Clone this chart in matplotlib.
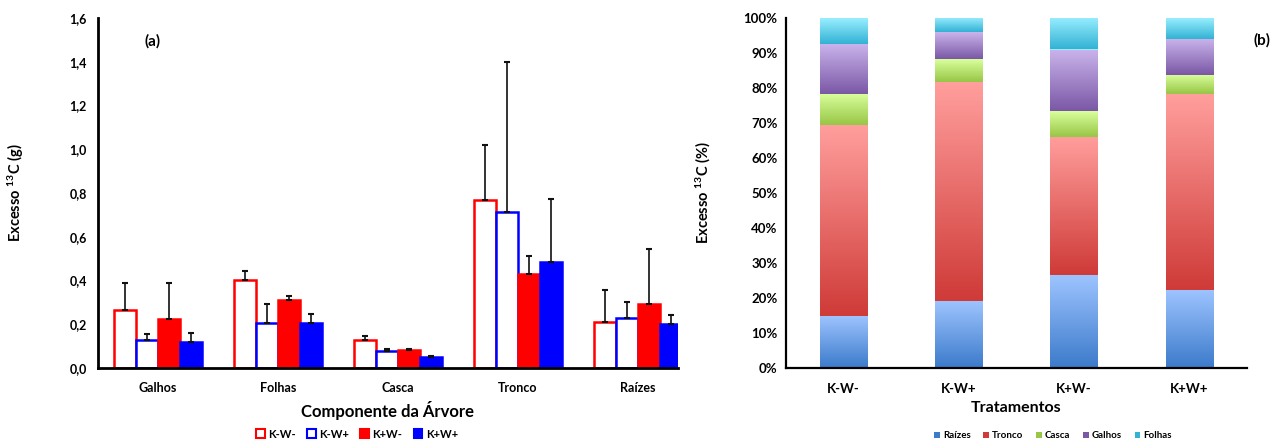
import numpy as np
import matplotlib
matplotlib.use("Agg")
import matplotlib.pyplot as plt
from matplotlib.patches import Patch
from matplotlib.colors import LinearSegmentedColormap
from matplotlib.ticker import FuncFormatter

plt.rcParams['font.family'] = ['Lato', 'DejaVu Sans']
plt.rcParams['font.weight'] = 'bold'
plt.rcParams['mathtext.fontset'] = 'custom'
plt.rcParams['mathtext.rm'] = 'Lato:bold'
plt.rcParams['mathtext.bf'] = 'Lato:bold'
plt.rcParams['mathtext.it'] = 'Lato:bold'
plt.rcParams['mathtext.default'] = 'bf'

# ---------------- data (a) ----------------
components = ["Galhos", "Folhas", "Casca", "Tronco", "Raízes"]
treatments = ["K-W-", "K-W+", "K+W-", "K+W+"]
mean_kwm = [0.265, 0.402, 0.130, 0.768, 0.212]
mean_kwp = [0.128, 0.205, 0.080, 0.715, 0.228]
mean_kpwm = [0.224, 0.310, 0.082, 0.430, 0.293]
mean_kpwp = [0.120, 0.205, 0.050, 0.484, 0.200]
err_kwm = [0.125, 0.043, 0.018, 0.252, 0.144]
err_kwp = [0.027, 0.088, 0.008, 0.685, 0.074]
err_kpwm = [0.166, 0.020, 0.003, 0.080, 0.251]
err_kpwp = [0.040, 0.040, 0.003, 0.289, 0.042]
yticks_a = [0.0, 0.2, 0.4, 0.6, 0.8, 1.0, 1.2, 1.4, 1.6]

# ---------------- data (b) ----------------
parts_b = ["Raízes", "Tronco", "Casca", "Galhos", "Folhas"]
pct_raizes = [14.9, 19.2, 26.6, 22.3]
pct_tronco = [54.4, 62.5, 39.5, 55.9]
pct_casca = [9.0, 6.5, 7.4, 5.5]
pct_galhos = [14.3, 7.7, 17.5, 10.3]
pct_folhas = [7.4, 4.1, 9.0, 6.0]

W, H = 1276, 441
fig = plt.figure(figsize=(W / 100, H / 100), dpi=100)

# ---------------- panel (a) ----------------
axa = fig.add_axes([98 / W, (H - 368) / H, (678 - 98) / W, 350 / H])
x = np.arange(len(components))
bw = 0.183
means = [mean_kwm, mean_kwp, mean_kpwm, mean_kpwp]
errs = [err_kwm, err_kwp, err_kpwm, err_kpwp]
faces = ["white", "white", "#FF0000", "#0000FF"]
edges = ["#FF0000", "#0000FF", "#FF0000", "#0000FF"]
offs = [-1.5, -0.5, 0.5, 1.5]
for m, e, fc, ec, o in zip(means, errs, faces, edges, offs):
    xs = x + o * bw
    axa.bar(xs, m, width=bw, facecolor=fc, edgecolor=ec, linewidth=1.8, zorder=2)
    axa.errorbar(xs, m, yerr=[np.zeros(len(m)), e], fmt="none", ecolor="#111111",
                 elinewidth=1.2, capsize=2.5, capthick=1.5, zorder=3)
axa.set_xlim(-0.5, 4.333)
axa.set_ylim(0, 1.6)
axa.set_yticks(yticks_a)
axa.yaxis.set_major_formatter(FuncFormatter(lambda v, p: f"{v:.1f}".replace(".", ",")))
axa.set_xticks(x)
axa.set_xticklabels(components)
for s in ["top", "right"]:
    axa.spines[s].set_visible(False)
for s in ["left", "bottom"]:
    axa.spines[s].set_linewidth(2)
axa.tick_params(length=0, labelsize=9, pad=8)
axa.tick_params(axis="x", pad=10)
axa.set_xlabel("Componente da Árvore", fontsize=12, fontweight="bold", labelpad=5)
axa.set_ylabel("Excesso $^{13}$C (g)", fontsize=10.5, fontweight="bold", labelpad=31)
axa.text(0.08, 0.92, "(a)", transform=axa.transAxes, fontsize=11, fontweight="bold")

handles_a = [Patch(facecolor=fc, edgecolor=ec, linewidth=1.5, label=t)
             for fc, ec, t in zip(faces, edges, treatments)]
fig.legend(handles=handles_a, loc="center", bbox_to_anchor=(357 / W, 1 - 434 / H),
           ncol=4, frameon=False, fontsize=8, handlelength=0.8, handleheight=0.8,
           handletextpad=0.3, columnspacing=1.0)

# ---------------- panel (b) ----------------
axb = fig.add_axes([786 / W, (H - 368) / H, (1247 - 786) / W, 350 / H])
xb = np.arange(len(treatments))
bwb = 0.41
stacks = [pct_raizes, pct_tronco, pct_casca, pct_galhos, pct_folhas]
grad = [("#3C7BCB", "#9EC4FF"), ("#CF3B38", "#FF9E9C"), ("#98C646", "#D9FF9C"),
        ("#7B58A6", "#CAB4EC"), ("#33B2D4", "#98EEFF")]
bottom = np.zeros(len(treatments))
for vals, (c0, c1), name in zip(stacks, grad, parts_b):
    bars = axb.bar(xb, vals, width=bwb, bottom=bottom, color=c1, linewidth=0, zorder=2)
    cmap = LinearSegmentedColormap.from_list(name, [c0, c1])
    for b in bars:
        x0, y0 = b.get_x(), b.get_y()
        im = axb.imshow(np.linspace(0, 1, 64).reshape(-1, 1), cmap=cmap, origin="lower",
                        extent=[x0, x0 + b.get_width(), y0, y0 + b.get_height()],
                        aspect="auto", zorder=2.5, interpolation="bilinear")
        im.set_clip_path(b)
    bottom = bottom + np.array(vals)
axb.set_xlim(-0.5, 3.5)
axb.set_ylim(0, 100)
axb.set_yticks(np.arange(0, 101, 10))
axb.yaxis.set_major_formatter(FuncFormatter(lambda v, p: f"{int(v)}%"))
axb.set_xticks(xb)
axb.set_xticklabels(treatments)
for s in ["top", "right"]:
    axb.spines[s].set_visible(False)
for s in ["left", "bottom"]:
    axb.spines[s].set_linewidth(1.6)
axb.tick_params(length=0, labelsize=9.5, pad=6)
axb.tick_params(axis="x", pad=11)
axb.set_xlabel("Tratamentos", fontsize=11.5, fontweight="bold", labelpad=4)
axb.set_ylabel("Excesso $^{13}$C (%)", fontsize=10.5, fontweight="bold", labelpad=22)
fig.text(1262 / W, 1 - 40 / H, "(b)", fontsize=11, fontweight="bold", ha="center", va="center")

handles_b = [Patch(facecolor=c0, edgecolor="none", label=n) for (c0, c1), n in zip(grad, parts_b)]
fig.legend(handles=handles_b, loc="center", bbox_to_anchor=(1053 / W, 1 - 436 / H),
           ncol=5, frameon=False, fontsize=7, handlelength=0.6, handleheight=0.6,
           handletextpad=0.3, columnspacing=1.3)

fig.savefig("out.png", dpi=100)
